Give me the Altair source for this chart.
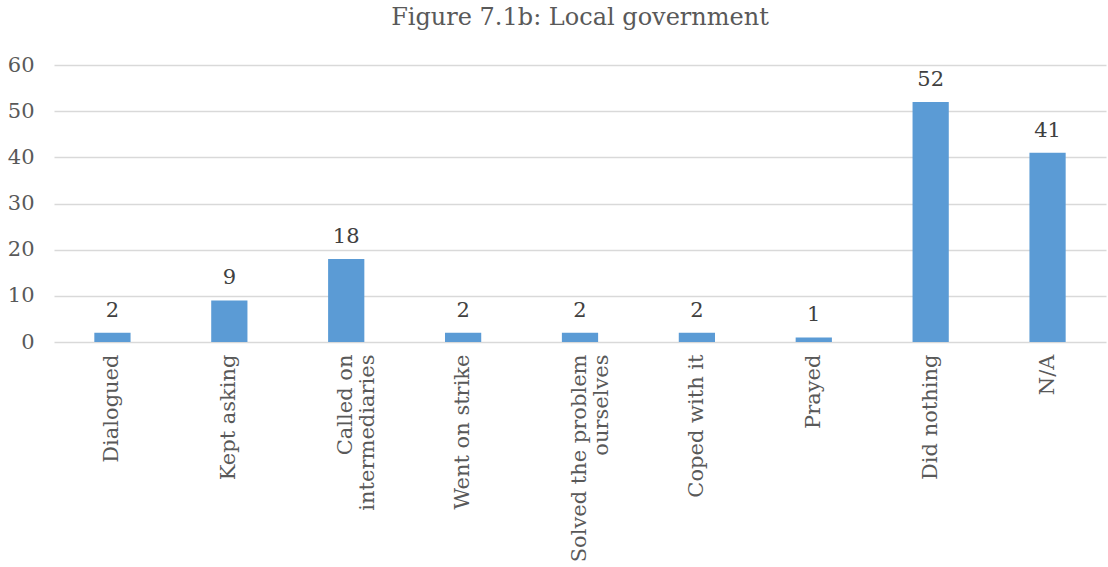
import altair as alt
import pandas as pd

categories = ["Dialogued", "Kept asking", "Called on|intermediaries", "Went on strike",
              "Solved the problem|ourselves", "Coped with it", "Prayed", "Did nothing", "N/A"]
values = [2, 9, 18, 2, 2, 2, 1, 52, 41]

df = pd.DataFrame({"category": categories, "value": values})
FONT = "DejaVu Serif"

x = alt.X("category:N", sort=categories, title=None,
          scale=alt.Scale(paddingInner=0.69, paddingOuter=0.345),
          axis=alt.Axis(labelAngle=-90, labelAlign="right", labelBaseline="middle",
                        labelExpr="split(datum.label, '|')", labelLineHeight=22,
                        labelFont=FONT, labelFontSize=21, labelColor="#595959",
                        labelLimit=400, ticks=False, domain=False, labelPadding=12,
                        grid=False))
y = alt.Y("value:Q", title=None,
          scale=alt.Scale(domain=[0, 60], nice=False),
          axis=alt.Axis(values=[0, 10, 20, 30, 40, 50, 60], ticks=False, domain=False,
                        labelFont=FONT, labelFontSize=21, labelColor="#595959",
                        labelPadding=20, gridColor="#d9d9d9", gridWidth=1.3))

bars = alt.Chart(df).mark_bar(color="#5b9bd5").encode(x=x, y=y)
labels = alt.Chart(df).mark_text(dy=-22, font=FONT, fontSize=21, color="#404040").encode(
    x=alt.X("category:N", sort=categories), y="value:Q", text="value:Q")

chart = (bars + labels).properties(
    width=1052, height=277,
    autosize=alt.AutoSizeParams(type="none"),
    padding={"left": 54, "top": 65, "right": 2, "bottom": 225},
    title=alt.TitleParams("Figure 7.1b: Local government", font=FONT, fontSize=24,
                          fontWeight="normal", color="#595959", anchor="middle", offset=24),
).configure_view(stroke=None)

chart.save("out.html", embed_options={"renderer": "svg", "actions": False})
